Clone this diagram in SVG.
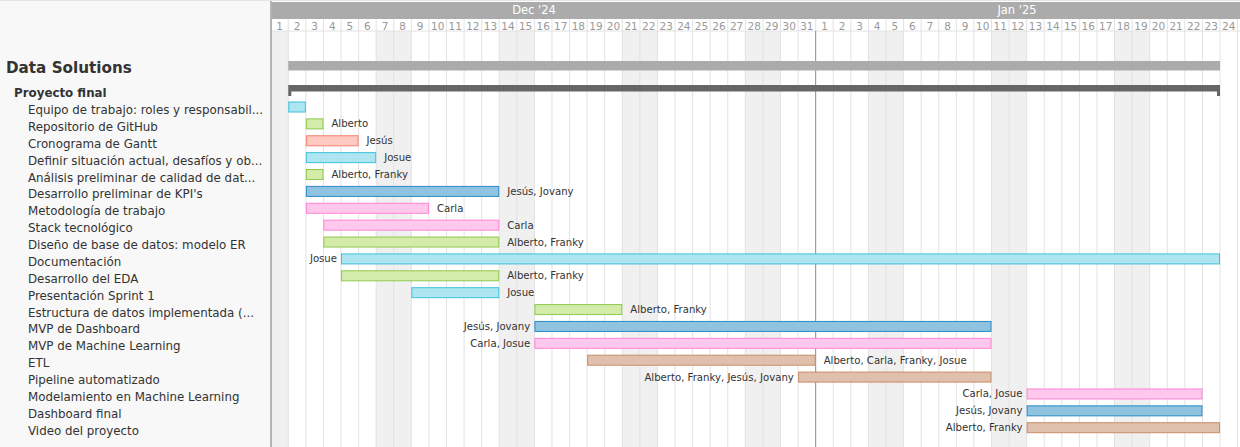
<svg xmlns="http://www.w3.org/2000/svg" width="1240" height="447" viewBox="0 0 1240 447">
<style>
.t{font-family:"DejaVu Sans",Verdana,sans-serif;fill:#333}
.task{font-size:11.85px}
.bl{font-size:10.15px}
.day{font-family:"DejaVu Sans",Verdana,sans-serif;font-size:10.5px;fill:#999;text-anchor:middle}
.mon{font-family:"DejaVu Sans",Verdana,sans-serif;font-size:11.5px;fill:#fff;text-anchor:middle}
.we{fill:#f0f0f0}
.gl{stroke:#e2e2e2;stroke-width:1}
.cy{fill:#ade6f0;stroke:#3fc0dc}
.gr{fill:#d4ecaa;stroke:#8fc94f}
.sa{fill:#ffc8c0;stroke:#f5806e}
.bu{fill:#8fc3df;stroke:#2a8bc6}
.pk{fill:#ffc8ec;stroke:#ff84d6}
.tn{fill:#dfc0ac;stroke:#c98d69}
.end{text-anchor:end}
</style>
<rect x="0" y="0" width="1240" height="447" fill="#fff"/>
<rect x="0" y="0" width="270" height="447" fill="#f8f8f8"/>
<rect x="270" y="0" width="2" height="447" fill="#b4b4b4"/>
<line x1="0" y1="0.5" x2="1240" y2="0.5" stroke="#e4e4e4"/>
<!-- header -->
<rect x="272" y="2" width="968" height="17" fill="#ababab"/>
<text class="mon" x="534" y="13.5">Dec '24</text>
<text class="mon" x="1017" y="13.5">Jan '25</text>
<rect x="272" y="19" width="968" height="12" fill="#fff"/>
<!-- weekends -->
<g id="weekends">
<rect class="we" x="272" y="31" width="16.28" height="416"/>
<rect class="we" x="376.18" y="31" width="35.16" height="416"/>
<rect class="we" x="499.24" y="31" width="35.16" height="416"/>
<rect class="we" x="622.3" y="31" width="35.16" height="416"/>
<rect class="we" x="745.36" y="31" width="35.16" height="416"/>
<rect class="we" x="868.42" y="31" width="35.16" height="416"/>
<rect class="we" x="991.48" y="31" width="35.16" height="416"/>
<rect class="we" x="1114.54" y="31" width="35.16" height="416"/>
</g>
<g id="grid" class="gl">
<line x1="288.28" y1="19" x2="288.28" y2="447"/><line x1="305.86" y1="19" x2="305.86" y2="447"/><line x1="323.44" y1="19" x2="323.44" y2="447"/><line x1="341.02" y1="19" x2="341.02" y2="447"/><line x1="358.6" y1="19" x2="358.6" y2="447"/><line x1="376.18" y1="19" x2="376.18" y2="447"/><line x1="393.76" y1="19" x2="393.76" y2="447"/><line x1="411.34" y1="19" x2="411.34" y2="447"/><line x1="428.92" y1="19" x2="428.92" y2="447"/><line x1="446.5" y1="19" x2="446.5" y2="447"/><line x1="464.08" y1="19" x2="464.08" y2="447"/><line x1="481.66" y1="19" x2="481.66" y2="447"/><line x1="499.24" y1="19" x2="499.24" y2="447"/><line x1="516.82" y1="19" x2="516.82" y2="447"/><line x1="534.4" y1="19" x2="534.4" y2="447"/><line x1="551.98" y1="19" x2="551.98" y2="447"/><line x1="569.56" y1="19" x2="569.56" y2="447"/><line x1="587.14" y1="19" x2="587.14" y2="447"/><line x1="604.72" y1="19" x2="604.72" y2="447"/><line x1="622.3" y1="19" x2="622.3" y2="447"/><line x1="639.88" y1="19" x2="639.88" y2="447"/><line x1="657.46" y1="19" x2="657.46" y2="447"/><line x1="675.04" y1="19" x2="675.04" y2="447"/><line x1="692.62" y1="19" x2="692.62" y2="447"/><line x1="710.2" y1="19" x2="710.2" y2="447"/><line x1="727.78" y1="19" x2="727.78" y2="447"/><line x1="745.36" y1="19" x2="745.36" y2="447"/><line x1="762.94" y1="19" x2="762.94" y2="447"/><line x1="780.52" y1="19" x2="780.52" y2="447"/><line x1="798.1" y1="19" x2="798.1" y2="447"/><line x1="815.68" y1="19" x2="815.68" y2="31"/><line x1="833.26" y1="19" x2="833.26" y2="447"/><line x1="850.84" y1="19" x2="850.84" y2="447"/><line x1="868.42" y1="19" x2="868.42" y2="447"/><line x1="886" y1="19" x2="886" y2="447"/><line x1="903.58" y1="19" x2="903.58" y2="447"/><line x1="921.16" y1="19" x2="921.16" y2="447"/><line x1="938.74" y1="19" x2="938.74" y2="447"/><line x1="956.32" y1="19" x2="956.32" y2="447"/><line x1="973.9" y1="19" x2="973.9" y2="447"/><line x1="991.48" y1="19" x2="991.48" y2="447"/><line x1="1009.06" y1="19" x2="1009.06" y2="447"/><line x1="1026.64" y1="19" x2="1026.64" y2="447"/><line x1="1044.22" y1="19" x2="1044.22" y2="447"/><line x1="1061.8" y1="19" x2="1061.8" y2="447"/><line x1="1079.38" y1="19" x2="1079.38" y2="447"/><line x1="1096.96" y1="19" x2="1096.96" y2="447"/><line x1="1114.54" y1="19" x2="1114.54" y2="447"/><line x1="1132.12" y1="19" x2="1132.12" y2="447"/><line x1="1149.7" y1="19" x2="1149.7" y2="447"/><line x1="1167.28" y1="19" x2="1167.28" y2="447"/><line x1="1184.86" y1="19" x2="1184.86" y2="447"/><line x1="1202.44" y1="19" x2="1202.44" y2="447"/><line x1="1220.02" y1="19" x2="1220.02" y2="447"/><line x1="1237.6" y1="19" x2="1237.6" y2="447"/>
<line x1="272" y1="31" x2="1240" y2="31"/>
</g>
<line id="today" x1="815.68" y1="31" x2="815.68" y2="447" stroke="#8a8a8a" stroke-width="1"/>
<g id="days">
<text class="day" x="279.5" y="30">1</text><text class="day" x="297.07" y="30">2</text><text class="day" x="314.65" y="30">3</text><text class="day" x="332.23" y="30">4</text><text class="day" x="349.81" y="30">5</text><text class="day" x="367.39" y="30">6</text><text class="day" x="384.97" y="30">7</text><text class="day" x="402.55" y="30">8</text><text class="day" x="420.13" y="30">9</text><text class="day" x="437.71" y="30">10</text><text class="day" x="455.29" y="30">11</text><text class="day" x="472.87" y="30">12</text><text class="day" x="490.45" y="30">13</text><text class="day" x="508.03" y="30">14</text><text class="day" x="525.61" y="30">15</text><text class="day" x="543.19" y="30">16</text><text class="day" x="560.77" y="30">17</text><text class="day" x="578.35" y="30">18</text><text class="day" x="595.93" y="30">19</text><text class="day" x="613.51" y="30">20</text><text class="day" x="631.09" y="30">21</text><text class="day" x="648.67" y="30">22</text><text class="day" x="666.25" y="30">23</text><text class="day" x="683.83" y="30">24</text><text class="day" x="701.41" y="30">25</text><text class="day" x="718.99" y="30">26</text><text class="day" x="736.57" y="30">27</text><text class="day" x="754.15" y="30">28</text><text class="day" x="771.73" y="30">29</text><text class="day" x="789.31" y="30">30</text><text class="day" x="806.89" y="30">31</text>
<text class="day" x="824.47" y="30">1</text><text class="day" x="842.05" y="30">2</text><text class="day" x="859.63" y="30">3</text><text class="day" x="877.21" y="30">4</text><text class="day" x="894.79" y="30">5</text><text class="day" x="912.37" y="30">6</text><text class="day" x="929.95" y="30">7</text><text class="day" x="947.53" y="30">8</text><text class="day" x="965.11" y="30">9</text><text class="day" x="982.69" y="30">10</text><text class="day" x="1000.27" y="30">11</text><text class="day" x="1017.85" y="30">12</text><text class="day" x="1035.43" y="30">13</text><text class="day" x="1053.01" y="30">14</text><text class="day" x="1070.59" y="30">15</text><text class="day" x="1088.17" y="30">16</text><text class="day" x="1105.75" y="30">17</text><text class="day" x="1123.33" y="30">18</text><text class="day" x="1140.91" y="30">19</text><text class="day" x="1158.49" y="30">20</text><text class="day" x="1176.07" y="30">21</text><text class="day" x="1193.65" y="30">22</text><text class="day" x="1211.23" y="30">23</text><text class="day" x="1228.81" y="30">24</text>
</g>
<g id="project">
<text class="t" x="6" y="72.5" font-size="15.2px" font-weight="bold">Data Solutions</text>
<rect x="288.28" y="61" width="931.74" height="9.5" fill="#ababab"/>
</g>
<g id="proyecto-final">
<text class="t" x="14" y="96.8" font-size="11.85px" font-weight="bold">Proyecto final</text>
<path d="M288.28 85 H1220.02 V96 H1217.02 V91.5 H291.28 V96 H288.28 Z" fill="#666"/>
</g>
<g id="tasks">
<g id="t0"><text class="t task" x="28" y="114">Equipo de trabajo: roles y responsabil...</text><rect class="cy" x="288.78" y="102" width="16.58" height="10"/></g>
<g id="t1"><text class="t task" x="28" y="130.88">Repositorio de GitHub</text><rect class="gr" x="306.36" y="118.88" width="16.58" height="10"/><text class="t bl" x="331.4" y="127.38">Alberto</text></g>
<g id="t2"><text class="t task" x="28" y="147.76">Cronograma de Gantt</text><rect class="sa" x="306.36" y="135.76" width="51.74" height="10"/><text class="t bl" x="366.6" y="144.26">Jesús</text></g>
<g id="t3"><text class="t task" x="28" y="164.64">Definir situación actual, desafíos y ob...</text><rect class="cy" x="306.36" y="152.64" width="69.32" height="10"/><text class="t bl" x="384.2" y="161.14">Josue</text></g>
<g id="t4"><text class="t task" x="28" y="181.52">Análisis preliminar de calidad de dat...</text><rect class="gr" x="306.36" y="169.52" width="16.58" height="10"/><text class="t bl" x="331.4" y="178.02">Alberto, Franky</text></g>
<g id="t5"><text class="t task" x="28" y="198.4">Desarrollo preliminar de KPI's</text><rect class="bu" x="306.36" y="186.4" width="192.38" height="10"/><text class="t bl" x="507.2" y="194.9">Jesús, Jovany</text></g>
<g id="t6"><text class="t task" x="28" y="215.28">Metodología de trabajo</text><rect class="pk" x="306.36" y="203.28" width="122.06" height="10"/><text class="t bl" x="436.9" y="211.78">Carla</text></g>
<g id="t7"><text class="t task" x="28" y="232.16">Stack tecnológico</text><rect class="pk" x="323.94" y="220.16" width="174.8" height="10"/><text class="t bl" x="507.2" y="228.66">Carla</text></g>
<g id="t8"><text class="t task" x="28" y="249.04">Diseño de base de datos: modelo ER</text><rect class="gr" x="323.94" y="237.04" width="174.8" height="10"/><text class="t bl" x="507.2" y="245.54">Alberto, Franky</text></g>
<g id="t9"><text class="t task" x="28" y="265.92">Documentación</text><rect class="cy" x="341.52" y="253.92" width="878" height="10"/><text class="t bl end" x="337" y="262.42">Josue</text></g>
<g id="t10"><text class="t task" x="28" y="282.8">Desarrollo del EDA</text><rect class="gr" x="341.52" y="270.8" width="157.22" height="10"/><text class="t bl" x="507.2" y="279.3">Alberto, Franky</text></g>
<g id="t11"><text class="t task" x="28" y="299.68">Presentación Sprint 1</text><rect class="cy" x="411.84" y="287.68" width="86.9" height="10"/><text class="t bl" x="507.2" y="296.18">Josue</text></g>
<g id="t12"><text class="t task" x="28" y="316.56">Estructura de datos implementada (...</text><rect class="gr" x="534.9" y="304.56" width="86.9" height="10"/><text class="t bl" x="630.3" y="313.06">Alberto, Franky</text></g>
<g id="t13"><text class="t task" x="28" y="333.44">MVP de Dashboard</text><rect class="bu" x="534.9" y="321.44" width="456.08" height="10"/><text class="t bl end" x="530.2" y="329.94">Jesús, Jovany</text></g>
<g id="t14"><text class="t task" x="28" y="350.32">MVP de Machine Learning</text><rect class="pk" x="534.9" y="338.32" width="456.08" height="10"/><text class="t bl end" x="530.2" y="346.82">Carla, Josue</text></g>
<g id="t15"><text class="t task" x="28" y="367.2">ETL</text><rect class="tn" x="587.64" y="355.2" width="227.54" height="10"/><text class="t bl" x="823.7" y="363.7">Alberto, Carla, Franky, Josue</text></g>
<g id="t16"><text class="t task" x="28" y="384.08">Pipeline automatizado</text><rect class="tn" x="798.6" y="372.08" width="192.38" height="10"/><text class="t bl end" x="793.8" y="380.58">Alberto, Franky, Jesús, Jovany</text></g>
<g id="t17"><text class="t task" x="28" y="400.96">Modelamiento en Machine Learning</text><rect class="pk" x="1027.14" y="388.96" width="174.8" height="10"/><text class="t bl end" x="1022.4" y="397.46">Carla, Josue</text></g>
<g id="t18"><text class="t task" x="28" y="417.84">Dashboard final</text><rect class="bu" x="1027.14" y="405.84" width="174.8" height="10"/><text class="t bl end" x="1022.4" y="414.34">Jesús, Jovany</text></g>
<g id="t19"><text class="t task" x="28" y="434.72">Video del proyecto</text><rect class="tn" x="1027.14" y="422.72" width="192.38" height="10"/><text class="t bl end" x="1022.4" y="431.22">Alberto, Franky</text></g>
</g>
</svg>
